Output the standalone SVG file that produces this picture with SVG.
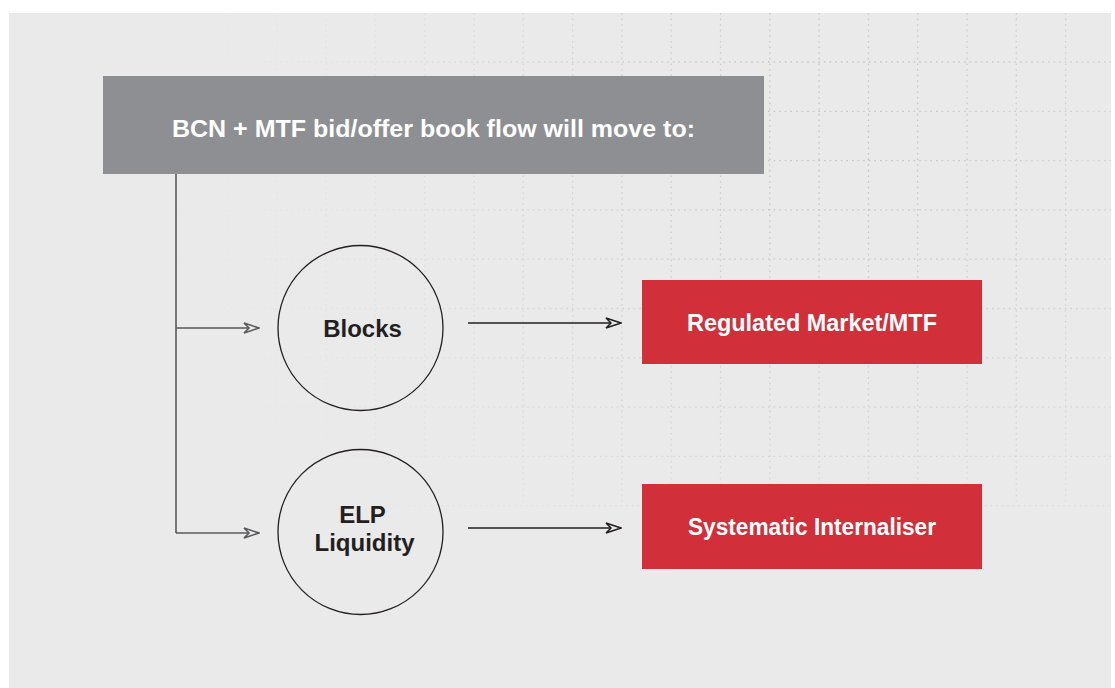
<svg xmlns="http://www.w3.org/2000/svg" width="1115" height="688" viewBox="0 0 1115 688">
  <defs>
    <style>
      .grid line { stroke: #c2c2c2; stroke-width: 1.3; stroke-dasharray: 1.6 4; }
      .lbl { font-family: "Liberation Sans", Arial, sans-serif; font-weight: bold; text-anchor: middle; }
      .dark { fill: #231f20; }
      .light { fill: #ffffff; }
      .circ { fill: none; stroke: #231f20; stroke-width: 1.3; }
      .red { fill: #d12f3a; }
      .trunk { fill: none; stroke: #59595b; stroke-width: 1.6; }
      .flow { fill: none; stroke: #231f20; stroke-width: 1.3; }
    </style>
    <marker id="arrGray" viewBox="0 0 17 13" refX="16" refY="6.5" markerWidth="17" markerHeight="13" markerUnits="userSpaceOnUse" orient="auto">
      <path d="M1,1.5 L16,6.5 L1,11.5 L6,6.5 Z" fill="#eaeaea" stroke="#59595b" stroke-width="1.6" stroke-linejoin="miter"/>
    </marker>
    <marker id="arrDark" viewBox="0 0 17 13" refX="16" refY="6.5" markerWidth="17" markerHeight="13" markerUnits="userSpaceOnUse" orient="auto">
      <path d="M1,1.5 L16,6.5 L1,11.5 L6,6.5 Z" fill="#eaeaea" stroke="#231f20" stroke-width="1.5" stroke-linejoin="miter"/>
    </marker>
    <radialGradient id="fade" gradientUnits="userSpaceOnUse" cx="840" cy="150" r="680">
      <stop offset="0" stop-color="#fff" stop-opacity="0.95"/>
      <stop offset="0.4" stop-color="#fff" stop-opacity="0.6"/>
      <stop offset="0.7" stop-color="#fff" stop-opacity="0.2"/>
      <stop offset="1" stop-color="#fff" stop-opacity="0"/>
    </radialGradient>
    <mask id="gridMask">
      <rect x="0" y="0" width="1115" height="688" fill="url(#fade)"/>
    </mask>
  </defs>

  <rect x="0" y="0" width="1115" height="688" fill="#ffffff"/>
  <rect x="9" y="13" width="1102" height="675" fill="#eaeaea"/>

  <g class="grid" mask="url(#gridMask)">
    <line x1="180" y1="62" x2="1111" y2="62"/>
    <line x1="180" y1="111.3" x2="1111" y2="111.3"/>
    <line x1="180" y1="160.6" x2="1111" y2="160.6"/>
    <line x1="180" y1="209.9" x2="1111" y2="209.9"/>
    <line x1="180" y1="259.2" x2="1111" y2="259.2"/>
    <line x1="180" y1="308.5" x2="1111" y2="308.5"/>
    <line x1="180" y1="357.8" x2="1111" y2="357.8"/>
    <line x1="180" y1="407.1" x2="1111" y2="407.1"/>
    <line x1="180" y1="456.4" x2="1111" y2="456.4"/>
    <line x1="380" y1="505.7" x2="1111" y2="505.7"/>
    <line x1="227.5" y1="13" x2="227.5" y2="460"/>
    <line x1="276.8" y1="13" x2="276.8" y2="460"/>
    <line x1="326.1" y1="13" x2="326.1" y2="460"/>
    <line x1="375.4" y1="13" x2="375.4" y2="460"/>
    <line x1="424.7" y1="13" x2="424.7" y2="460"/>
    <line x1="474" y1="13" x2="474" y2="460"/>
    <line x1="523.3" y1="13" x2="523.3" y2="506"/>
    <line x1="572.6" y1="13" x2="572.6" y2="506"/>
    <line x1="621.9" y1="13" x2="621.9" y2="506"/>
    <line x1="671.2" y1="13" x2="671.2" y2="506"/>
    <line x1="720.5" y1="13" x2="720.5" y2="506"/>
    <line x1="769.8" y1="13" x2="769.8" y2="506"/>
    <line x1="819.1" y1="13" x2="819.1" y2="506"/>
    <line x1="868.4" y1="13" x2="868.4" y2="506"/>
    <line x1="917.7" y1="13" x2="917.7" y2="506"/>
    <line x1="967" y1="13" x2="967" y2="506"/>
    <line x1="1016.3" y1="13" x2="1016.3" y2="506"/>
    <line x1="1065.6" y1="13" x2="1065.6" y2="506"/>
  </g>

  <g id="connectors">
    <path class="trunk" d="M176,174 V533"/>
    <path class="trunk" d="M176,328 H259" marker-end="url(#arrGray)"/>
    <path class="trunk" d="M176,533 H259" marker-end="url(#arrGray)"/>
    <path class="flow" d="M468,323 H621" marker-end="url(#arrDark)"/>
    <path class="flow" d="M468,528 H621" marker-end="url(#arrDark)"/>
  </g>

  <g id="header">
    <rect x="103" y="76" width="661" height="98" fill="#8e8f93"/>
    <text class="lbl light" x="433.5" y="137" font-size="24.5" textLength="523" lengthAdjust="spacingAndGlyphs">BCN + MTF bid/offer book flow will move to:</text>
  </g>

  <g id="blocks">
    <circle class="circ" cx="360.5" cy="328" r="82.5"/>
    <text class="lbl dark" x="362.5" y="337" font-size="24">Blocks</text>
  </g>

  <g id="elp">
    <circle class="circ" cx="360.5" cy="532" r="82.5"/>
    <text class="lbl dark" x="362.5" y="523" font-size="24">ELP</text>
    <text class="lbl dark" x="364.5" y="551" font-size="24">Liquidity</text>
  </g>

  <g id="regulated">
    <rect class="red" x="642" y="280" width="340" height="84"/>
    <text class="lbl light" x="812" y="331" font-size="23" textLength="250" lengthAdjust="spacingAndGlyphs">Regulated Market/MTF</text>
  </g>

  <g id="si">
    <rect class="red" x="642" y="484" width="340" height="85"/>
    <text class="lbl light" x="812" y="535" font-size="23" textLength="248" lengthAdjust="spacingAndGlyphs">Systematic Internaliser</text>
  </g>
</svg>
